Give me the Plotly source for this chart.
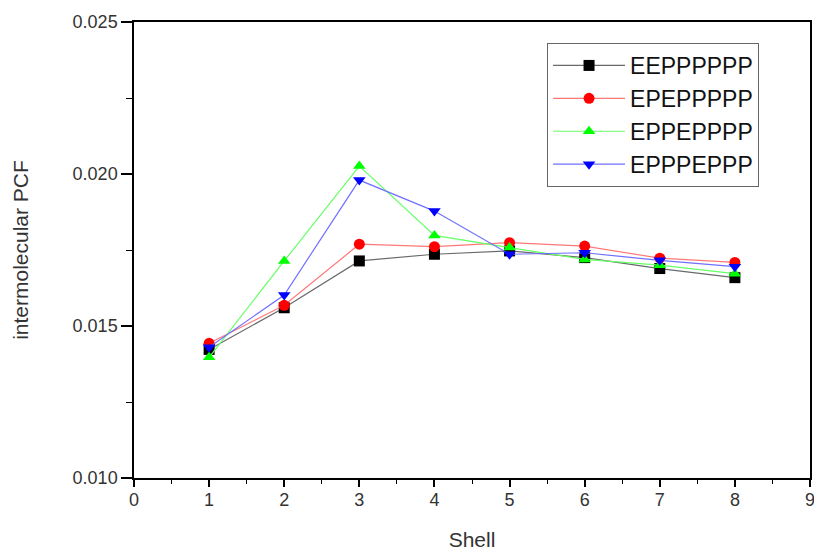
import plotly.graph_objects as go

shell = [1, 2, 3, 4, 5, 6, 7, 8]
eepppppp = [0.01423, 0.01560, 0.01714, 0.01736, 0.01747, 0.01725, 0.01689, 0.01659]
epepPPPP = [0.01443, 0.01568, 0.01769, 0.01761, 0.01774, 0.01763, 0.01723, 0.01709]
eppepppp = [0.01397, 0.01714, 0.02026, 0.01798, 0.01758, 0.01719, 0.01700, 0.01672]
epppeppp = [0.01430, 0.01602, 0.01980, 0.01878, 0.01736, 0.01741, 0.01716, 0.01695]

series = [
    ("EEPPPPPP", eepppppp, "#6a6a6a", "black", "square"),
    ("EPEPPPPP", epepPPPP, "#ff7878", "red", "circle"),
    ("EPPEPPPP", eppepppp, "#66ff66", "#00ff00", "triangle-up"),
    ("EPPPEPPP", epppeppp, "#7070ff", "blue", "triangle-down"),
]

fig = go.Figure()
for name, vals, lc, mc, sym in series:
    fig.add_trace(go.Scatter(
        x=shell, y=vals, name=name, mode="lines+markers",
        line=dict(color=lc, width=1.2),
        marker=dict(symbol=sym, color=mc, size=11, line=dict(width=0)),
    ))

font = "Liberation Sans, Arial, sans-serif"
fig.update_layout(
    width=814, height=552,
    margin=dict(l=134, r=4, t=22, b=74, autoexpand=False),
    paper_bgcolor="white", plot_bgcolor="white",
    font=dict(family=font, color="#222"),
    showlegend=True,
    legend=dict(
        x=0.611, y=0.954, xanchor="left", yanchor="top",
        bordercolor="#666", borderwidth=1, bgcolor="white",
        font=dict(size=23, family=font, color="#111"),
        tracegroupgap=0, itemwidth=72,
    ),
    xaxis=dict(
        range=[0, 9], dtick=1, tick0=0, automargin=False,
        ticklabeloverflow="allow",
        showgrid=False, zeroline=False,
        showline=True, linecolor="black", linewidth=1.5, mirror=True,
        ticks="outside", ticklen=7, tickwidth=1.5, tickcolor="black",
        minor=dict(dtick=0.5, ticks="outside", ticklen=4, tickwidth=1.2, tickcolor="black"),
        tickfont=dict(size=18, color="#333"),
        ticklabelstandoff=-2,
        title=dict(text="Shell", font=dict(size=21, color="#333"), standoff=23),
    ),
    yaxis=dict(
        range=[0.010, 0.025], dtick=0.005, tick0=0.010, automargin=False,
        tickformat=".3f",
        showgrid=False, zeroline=False,
        showline=True, linecolor="black", linewidth=1.5, mirror=True,
        ticks="outside", ticklen=11, tickwidth=1.5, tickcolor="black",
        minor=dict(dtick=0.0025, ticks="outside", ticklen=6, tickwidth=1.2, tickcolor="black"),
        tickfont=dict(size=18, color="#333"),
        title=dict(text="intermolecular PCF", font=dict(size=21, color="#333"), standoff=38),
    ),
)

fig.write_html(
    "out.html",
    config={"displayModeBar": False},
    post_script="document.body.style.margin='0';document.body.style.overflow='hidden';",
)
